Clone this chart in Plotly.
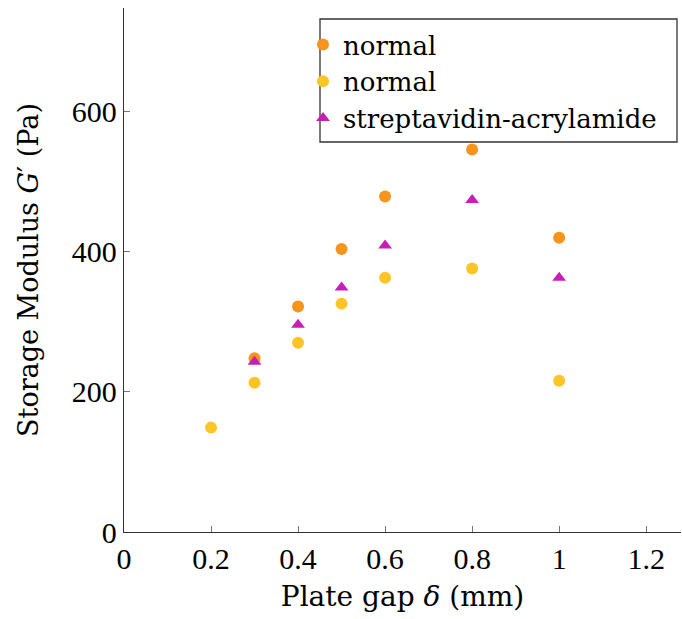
import plotly.graph_objects as go

normal1_x = [0.3, 0.4, 0.5, 0.6, 0.8, 1.0]
normal1_y = [248, 322, 404, 479, 546, 420]
normal2_x = [0.2, 0.3, 0.4, 0.5, 0.6, 0.8, 1.0]
normal2_y = [149, 213, 270, 326, 363, 376, 216]
strep_x = [0.3, 0.4, 0.5, 0.6, 0.8, 1.0]
strep_y = [243, 296, 349, 409, 474, 363]

xticks = [0, 0.2, 0.4, 0.6, 0.8, 1.0, 1.2]
xticklabels = ["0", "0.2", "0.4", "0.6", "0.8", "1", "1.2"]
yticks = [0, 200, 400, 600]

FONT = "Liberation Serif"
TFONT = "DejaVu Serif"

fig = go.Figure()
fig.add_trace(go.Scatter(x=normal1_x, y=normal1_y, mode="markers", name="normal",
                         marker=dict(symbol="circle", size=12, color="#F7941D")))
fig.add_trace(go.Scatter(x=normal2_x, y=normal2_y, mode="markers", name="normal",
                         marker=dict(symbol="circle", size=12, color="#FFC425")))
fig.add_trace(go.Scatter(x=strep_x, y=strep_y, mode="markers", name="streptavidin-acrylamide",
                         marker=dict(symbol="triangle-up", size=12, color="#C71FB5")))

# legend frame (paper coords of the plot area: x 124..681, y 8..532)
fig.add_shape(type="rect", xref="paper", yref="paper",
              x0=(320 - 124) / 557, x1=(677 - 124) / 557,
              y0=(532 - 142) / 524, y1=(532 - 19) / 524,
              line=dict(color="#333333", width=1.3), fillcolor="rgba(0,0,0,0)", layer="above")

fig.update_layout(
    width=682, height=619,
    margin=dict(l=124, r=1, t=8, b=87, autoexpand=False),
    plot_bgcolor="white", paper_bgcolor="white",
    font=dict(family=FONT, size=30, color="black"),
    showlegend=True,
    legend=dict(x=(303 - 124) / 557, y=(532 - 21) / 524, xanchor="left", yanchor="top",
                borderwidth=0, bgcolor="rgba(0,0,0,0)",
                font=dict(family=TFONT, size=26), itemwidth=30,
                tracegroupgap=0, itemsizing="constant"),
    xaxis=dict(range=[0, 1.28], tickvals=xticks, ticktext=xticklabels, automargin=False,
               showgrid=False, zeroline=False, showline=True, linecolor="#333333",
               linewidth=1.3, ticks="inside", ticklen=6, tickcolor="#777777",
               tickfont=dict(size=30),
               title=dict(text="Plate gap <i>δ</i> (mm)", font=dict(family=TFONT, size=28), standoff=12)),
    yaxis=dict(range=[0, 748], tickvals=yticks, automargin=False,
               showgrid=False, zeroline=False, showline=True, linecolor="#333333",
               linewidth=1.3, ticks="inside", ticklen=6, tickcolor="#777777",
               tickfont=dict(size=30),
               title=dict(text="Storage Modulus <i>G</i>′ (Pa)", font=dict(family=TFONT, size=27), standoff=25)),
)

fig.write_html("out.html", config={"displayModeBar": False},
               post_script="document.body.style.margin='0';document.body.style.overflow='hidden';")
